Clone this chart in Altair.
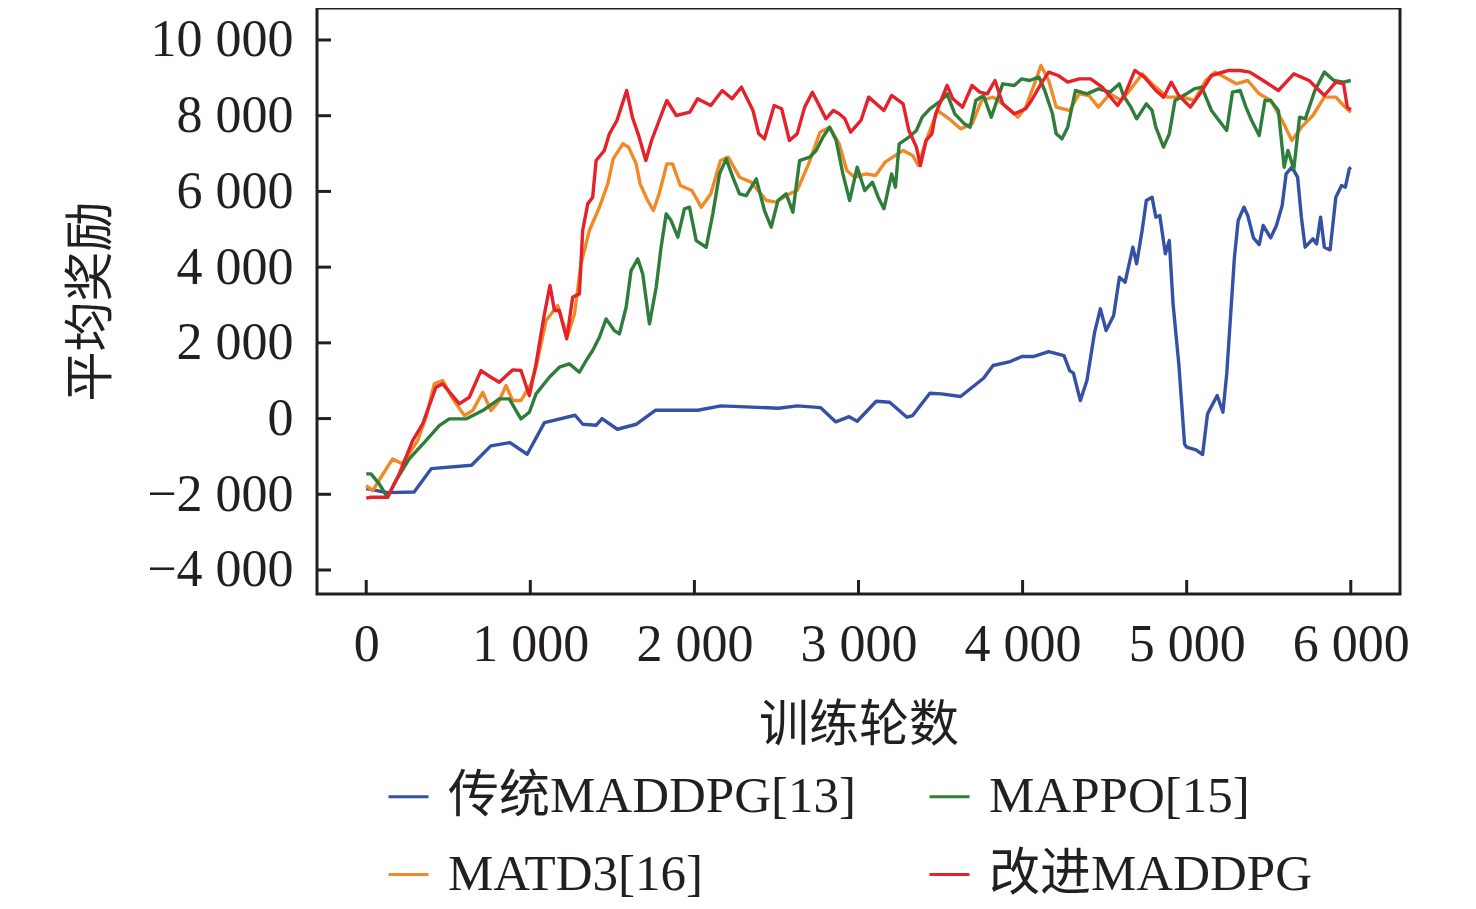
import altair as alt
import pandas as pd

# ---------------- data ----------------
series_names = ["传统MADDPG[13]", "MAPPO[15]", "MATD3[16]", "改进MADDPG"]
series_colors = ["#3451A5", "#2F7D3A", "#F18A26", "#E52129"]
draw_order = ["传统MADDPG[13]", "MATD3[16]", "MAPPO[15]", "改进MADDPG"]

blue_ep = [0, 128, 292, 397, 642, 759, 876, 981, 1086, 1273, 1320, 1402, 1437, 1530, 1647, 1764, 2021, 2161,
           2511, 2628, 2768, 2862, 2943, 2992, 3108, 3190, 3295, 3330, 3435, 3505, 3622, 3762, 3820, 3925, 3995,
           4065, 4159, 4252, 4287, 4310, 4352, 4392, 4439, 4474, 4509, 4555, 4590, 4625, 4672, 4695, 4730, 4754,
           4789, 4812, 4836, 4870, 4894, 4917, 4952, 4987, 4999, 5057, 5097, 5127, 5186, 5221, 5244, 5267, 5291,
           5314, 5349, 5372, 5407, 5442, 5466, 5512, 5547, 5582, 5606, 5641, 5676, 5699, 5722, 5769, 5792, 5816,
           5839, 5874, 5909, 5944, 5967, 5991, 6000]
blue_val = [-1850, -1956, -1938, -1321, -1233, -722, -634, -943, -106, 88, -150, -176, 0, -282, -150, 220, 220, 335,
            273, 335, 290, -88, 50, -70, 458, 432, 36, 80, 670, 652, 582, 1066, 1401, 1506, 1638,
            1638, 1770, 1665, 1269, 1198, 476, 1004, 2281, 2898, 2326, 2722, 3734, 3602, 4527, 4087, 5011, 5760,
            5848, 5320, 5364, 4351, 4703, 3030, 1444, -669, -757, -827, -951, 124, 608, 168, 1180, 2678, 4263,
            5232, 5584, 5364, 4774, 4597, 5100, 4774, 5100, 5628, 6464, 6641, 6376, 5320, 4527, 4747, 4615, 5320,
            4527, 4457, 5848, 6156, 6112, 6597, 6641]

red_ep = [0, 29, 130, 201, 283, 344, 425, 466, 567, 628, 699, 760, 811, 892, 943, 994, 1035, 1086, 1120, 1147,
          1177, 1222, 1258, 1299, 1319, 1350, 1380, 1401, 1451, 1482, 1528, 1587, 1622, 1657, 1704, 1739, 1785,
          1832, 1890, 1972, 2019, 2100, 2170, 2229, 2287, 2357, 2392, 2427, 2486, 2532, 2579, 2626, 2672, 2719,
          2766, 2801, 2847, 2882, 2917, 2952, 3015, 3062, 3155, 3202, 3272, 3307, 3353, 3377, 3412, 3447, 3470,
          3540, 3575, 3634, 3692, 3739, 3785, 3832, 3879, 3949, 4019, 4054, 4112, 4159, 4217, 4275, 4345, 4415,
          4485, 4579, 4625, 4684, 4742, 4812, 4859, 4906, 4952, 5022, 5081, 5151, 5256, 5326, 5384, 5466, 5559,
          5653, 5746, 5839, 5909, 5956, 5979, 6000]
red_val = [-2100, -2078, -2078, -1462, -581, -141, 828, 916, 388, 564, 1268, 1092, 960, 1286, 1268, 608, 1444, 2765,
           3514, 2853, 2853, 2105, 3206, 3294, 4967, 5671, 5847, 6816, 7081, 7521, 7874, 8666, 7961, 7521, 6817,
           7345, 7874, 8402, 8006, 8094, 8446, 8270, 8666, 8446, 8754, 8138, 7521, 7389, 8270, 8182, 7345, 7521,
           8226, 8622, 8226, 7918, 8138, 8050, 7918, 7565, 7874, 8490, 8138, 8534, 8314, 7609, 7169, 6684, 7345,
           7521, 8050, 8798, 8446, 8226, 8798, 8622, 8578, 8930, 8314, 8050, 8182, 8402, 8842, 9151, 9062, 8886,
           8974, 8974, 8754, 8270, 8578, 9195, 9018, 8666, 8490, 8886, 8534, 8226, 8578, 9062, 9195, 9195, 9151,
           8930, 8666, 9106, 8930, 8534, 8886, 8842, 8226, 8155]

orange_ep = [0, 39, 90, 161, 222, 313, 364, 415, 466, 527, 598, 649, 710, 760, 811, 852, 892, 943, 1004, 1035,
             1096, 1167, 1197, 1228, 1269, 1309, 1360, 1421, 1472, 1505, 1564, 1599, 1645, 1669, 1715, 1750, 1785,
             1832, 1867, 1914, 1984, 2042, 2100, 2159, 2206, 2275, 2345, 2439, 2497, 2579, 2626, 2696, 2766, 2824,
             2882, 2929, 2976, 3046, 3104, 3162, 3209, 3272, 3330, 3365, 3412, 3482, 3552, 3622, 3692, 3750, 3820,
             3879, 3972, 4019, 4065, 4112, 4159, 4205, 4287, 4345, 4404, 4462, 4532, 4602, 4660, 4730, 4789, 4882,
             4976, 5046, 5116, 5174, 5232, 5302, 5372, 5442, 5512, 5582, 5641, 5699, 5769, 5839, 5909, 5956, 6000]
orange_val = [-1770, -1903, -1550, -1066, -1198, -581, 35, 916, 1004, 520, 79, 211, 696, 211, 476, 872, 476, 476,
              916, 1356, 2589, 2985, 2545, 2193, 2765, 4086, 4967, 5583, 6200, 6860, 7257, 7169, 6728, 6200, 5760,
              5496, 5936, 6728, 6728, 6156, 6024, 5584, 5936, 6817, 6905, 6376, 6244, 5760, 5716, 5936, 6024, 6728,
              7565, 7697, 7257, 6552, 6376, 6464, 6420, 6773, 6905, 7081, 6949, 6684, 7345, 8138, 7918, 7653, 7786,
              8402, 8490, 8314, 7962, 8226, 8754, 9327, 8930, 8226, 8138, 8578, 8534, 8226, 8578, 8402, 8710, 9106,
              8842, 8490, 8490, 8402, 8930, 9151, 9018, 8842, 8930, 8578, 8402, 7874, 7345, 7697, 8006, 8490, 8490,
              8270, 8094]

green_ep = [0, 29, 79, 130, 181, 262, 364, 445, 506, 608, 710, 811, 872, 913, 943, 994, 1035, 1116, 1177, 1238,
            1299, 1340, 1380, 1421, 1462, 1512, 1543, 1584, 1614, 1655, 1685, 1726, 1767, 1797, 1828, 1858, 1899,
            1939, 1970, 2011, 2072, 2112, 2153, 2194, 2234, 2275, 2316, 2377, 2427, 2468, 2509, 2559, 2600, 2641,
            2702, 2742, 2783, 2824, 2864, 2905, 2946, 2992, 3038, 3085, 3120, 3155, 3202, 3225, 3248, 3307, 3353,
            3388, 3435, 3505, 3540, 3587, 3645, 3680, 3715, 3762, 3809, 3844, 3879, 3949, 3995, 4042, 4100, 4135,
            4182, 4205, 4240, 4275, 4322, 4392, 4462, 4532, 4590, 4614, 4660, 4695, 4754, 4789, 4812, 4859, 4894,
            4929, 4999, 5046, 5092, 5151, 5197, 5244, 5279, 5326, 5361, 5396, 5442, 5477, 5512, 5559, 5594, 5617,
            5653, 5688, 5723, 5781, 5839, 5897, 5956, 6000]
green_val = [-1462, -1462, -1727, -2078, -1638, -1066, -581, -185, -9, -9, 211, 520, 520, 211, -9, 167, 652, 1092,
             1356, 1444, 1224, 1532, 1797, 2149, 2633, 2325, 2236, 2941, 3910, 4218, 3822, 2501, 3470, 4526, 5407,
             5231, 4790, 5539, 5583, 4702, 4526, 5407, 6464, 6860, 6376, 5936, 5891, 6332, 5495, 5055, 5759, 5935,
             5451, 6816, 6904, 7080, 7432, 7697, 7344, 6464, 5759, 6640, 6024, 6244, 5848, 5540, 6464, 6112, 7257,
             7433, 7609, 7962, 8182, 8402, 8578, 8050, 7786, 7697, 8402, 8534, 7962, 8402, 8842, 8798, 8974, 8930,
             9018, 8666, 8050, 7521, 7389, 7697, 8666, 8578, 8710, 8622, 8842, 8534, 8226, 7918, 8314, 8138, 7697,
             7169, 7521, 8402, 8578, 8710, 8754, 8138, 7874, 7609, 8622, 8666, 8226, 7874, 7477, 8402, 8402, 8138,
             6640, 7081, 6596, 7962, 7918, 8666, 9151, 8930, 8886, 8930]

x_ticks = [0, 1000, 2000, 3000, 4000, 5000, 6000]
y_ticks = [-4000, -2000, 0, 2000, 4000, 6000, 8000, 10000]

x_title = "训练轮数"
y_title = "平均奖励"

# ---------------- build table ----------------
rows = []
for name, eps, vals in [
    ("传统MADDPG[13]", blue_ep, blue_val),
    ("改进MADDPG", red_ep, red_val),
    ("MATD3[16]", orange_ep, orange_val),
    ("MAPPO[15]", green_ep, green_val),
]:
    for e, v in zip(eps, vals):
        rows.append({"ep": e, "val": v, "series": name})
df = pd.DataFrame(rows)

W, H = 1083, 586
FONT = "Liberation Serif, Times New Roman, Noto Sans CJK SC"
INK = "#231F20"

xscale = alt.Scale(domain=[-300, 6300], nice=False, zero=False)
yscale = alt.Scale(domain=[-4634, 10845], nice=False, zero=False)
lbl = "replace(format(datum.value, ','), ',', ' ')"
xaxis = alt.Axis(values=x_ticks, title=x_title, labelExpr=lbl, labelPadding=25, titlePadding=30)
yaxis = alt.Axis(values=y_ticks, title=y_title, labelExpr=lbl, labelPadding=24, titlePadding=30)

color = alt.Color(
    "series:N",
    scale=alt.Scale(domain=series_names, range=series_colors),
    legend=alt.Legend(
        title=None, orient="none", legendX=66, legendY=763, direction="horizontal",
        columns=2, columnPadding=66, rowPadding=26,
        symbolType="stroke", symbolSize=1600, symbolStrokeWidth=3,
        labelFont=FONT, labelFontSize=51, labelColor=INK, labelOffset=14, labelLimit=2000,
    ),
)

layers = []
for name in draw_order:
    layers.append(
        alt.Chart(df).transform_filter(alt.datum.series == name)
        .mark_line(strokeWidth=3.4, strokeJoin="round")
        .encode(
            x=alt.X("ep:Q", scale=xscale, axis=xaxis, title=x_title),
            y=alt.Y("val:Q", scale=yscale, axis=yaxis, title=y_title),
            color=color,
        )
    )

ytick_df = pd.DataFrame({"ep": [0] * len(y_ticks), "val": y_ticks})
xtick_df = pd.DataFrame({"ep": x_ticks, "val": [0] * len(x_ticks)})
ytick_layer = alt.Chart(ytick_df).mark_rule(color=INK, strokeWidth=3).encode(
    y=alt.Y("val:Q", scale=yscale, axis=yaxis, title=y_title), x=alt.value(0), x2=alt.value(14)
)
xtick_layer = alt.Chart(xtick_df).mark_rule(color=INK, strokeWidth=3).encode(
    x=alt.X("ep:Q", scale=xscale, axis=xaxis, title=x_title), y=alt.value(H), y2=alt.value(H - 14)
)

chart = alt.layer(*layers, ytick_layer, xtick_layer).properties(
    width=W, height=H,
    autosize=alt.AutoSizeParams(type="none"),
    padding={"left": 309, "top": 0, "right": 68, "bottom": 307},
).configure_view(
    stroke=INK, strokeWidth=3
).configure_axis(
    domain=False, ticks=False, grid=False,
    labelFont=FONT, labelFontSize=52, labelColor=INK,
    titleFont=FONT, titleFontSize=50, titleFontWeight="normal", titleColor=INK,
)

chart.save("out.html", embed_options={"renderer": "svg", "actions": False})
